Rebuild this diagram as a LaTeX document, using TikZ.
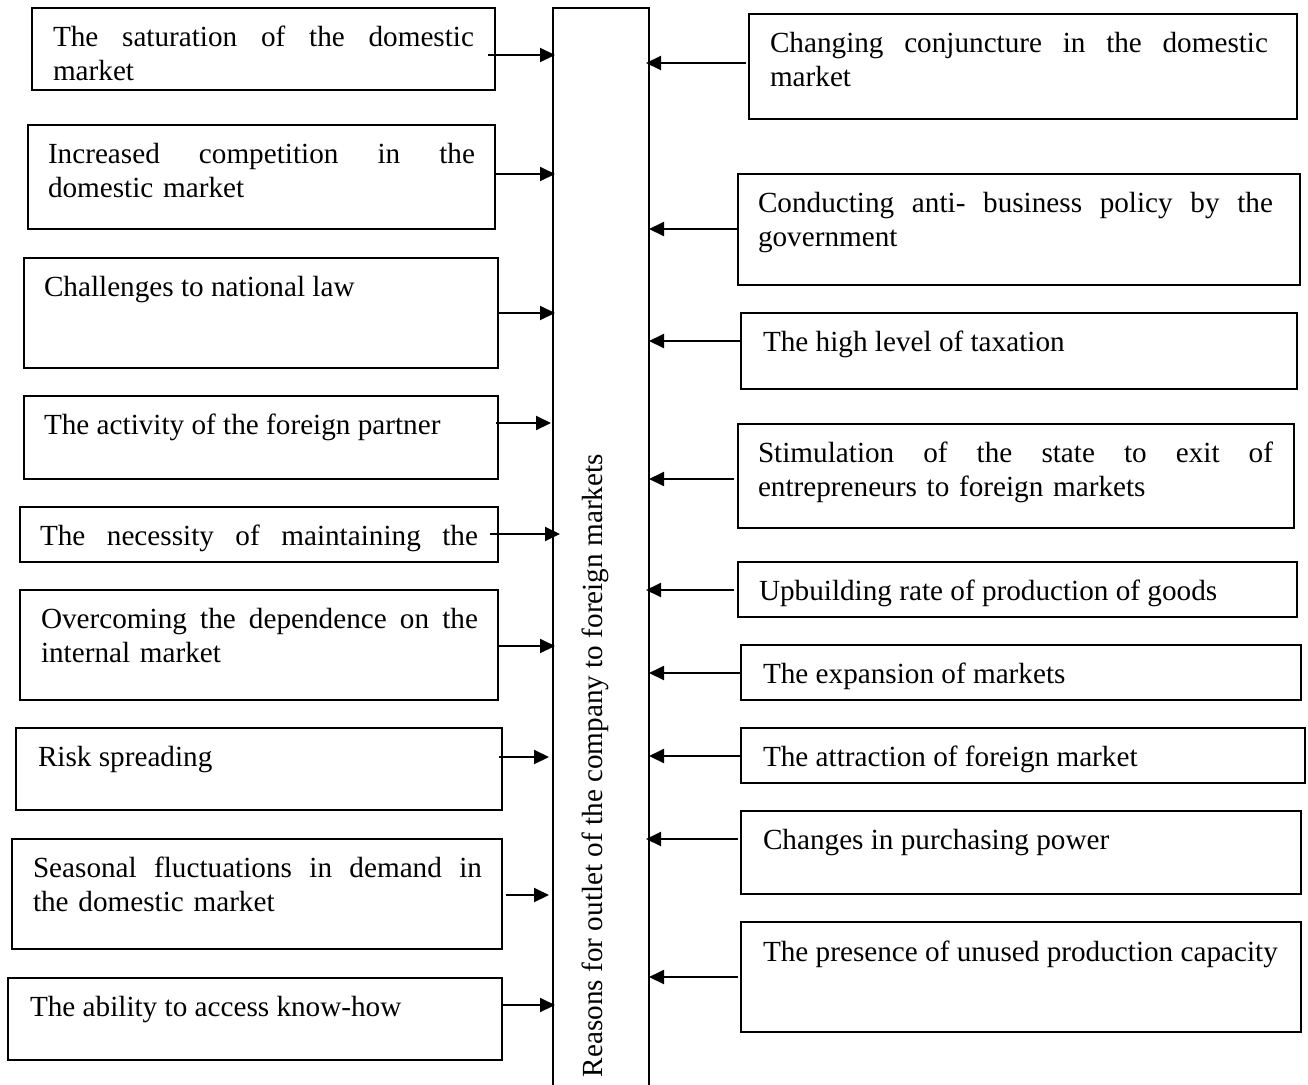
\documentclass[tikz,border=0pt]{standalone}
\usepackage{fontspec}
\setmainfont{Liberation Serif}
\usetikzlibrary{arrows.meta,calc}
% a first line spread to a given width, as in justified text
\newcommand{\jline}[2]{\hbox to #1{#2}}

\begin{document}
\begin{tikzpicture}[x=1pt,y=-1pt,
  causebox/.style={draw, line width=1.6pt, inner sep=0pt, outer sep=0pt, anchor=north west},
  label/.style={inner sep=0pt, outer sep=0pt, anchor=base west, align=left,
    font=\fontsize{29.2pt}{34pt}\selectfont},
  link/.style={line width=2pt, -{Triangle[length=15pt,width=14pt]}}]

\clip (0,0) rectangle (1308,1084);
\useasboundingbox (0,0) rectangle (1308,1084);

% central column
\node[causebox, minimum width=96pt, minimum height=1100pt] (bar) at (553,8) {};
\node[label, rotate=90] (bartext) at (602,1077)
  {Reasons for outlet of the company to foreign markets};

% left column of boxes
\node[causebox, minimum width=463pt, minimum height=82pt]  (L1) at (32,8) {};
\node[causebox, minimum width=467pt, minimum height=104pt] (L2) at (28,125) {};
\node[causebox, minimum width=474pt, minimum height=110pt] (L3) at (24,258) {};
\node[causebox, minimum width=474pt, minimum height=83pt]  (L4) at (24,396) {};
\node[causebox, minimum width=478pt, minimum height=55pt]  (L5) at (20,507) {};
\node[causebox, minimum width=478pt, minimum height=110pt] (L6) at (20,590) {};
\node[causebox, minimum width=486pt, minimum height=82pt]  (L7) at (16,728) {};
\node[causebox, minimum width=490pt, minimum height=110pt] (L8) at (12,839) {};
\node[causebox, minimum width=494pt, minimum height=82pt]  (L9) at (8,978) {};

\node[label, text width=421pt] (L1t) at (53,46.5)
  {\jline{421pt}{The \hfill saturation \hfill of \hfill the \hfill domestic}\\market};
\node[label, text width=427pt] (L2t) at (48,163.5)
  {\jline{427pt}{Increased \hfill competition \hfill in \hfill the}\\domestic market};
\node[label] (L3t) at (44,296.5) {Challenges to national law};
\node[label] (L4t) at (44,434.5) {The activity of the foreign partner};
\node[label, text width=438pt] (L5t) at (40,545.5)
  {\jline{438pt}{The \hfill necessity \hfill of \hfill maintaining \hfill the}};
\node[label, text width=437pt] (L6t) at (41,628.5)
  {\jline{437pt}{Overcoming \hfill the \hfill dependence \hfill on \hfill the}\\internal market};
\node[label] (L7t) at (38,766.5) {Risk spreading};
\node[label, text width=449pt] (L8t) at (33,877.5)
  {\jline{449pt}{Seasonal \hfill fluctuations \hfill in \hfill demand \hfill in}\\the domestic market};
\node[label] (L9t) at (30,1016.5) {The ability to access know-how};

% right column of boxes
\node[causebox, minimum width=548pt, minimum height=105pt] (R1) at (749,14) {};
\node[causebox, minimum width=562pt, minimum height=111pt] (R2) at (738,174) {};
\node[causebox, minimum width=556pt, minimum height=76pt]  (R3) at (741,313) {};
\node[causebox, minimum width=556pt, minimum height=104pt] (R4) at (738,424) {};
\node[causebox, minimum width=559pt, minimum height=55pt]  (R5) at (738,562) {};
\node[causebox, minimum width=560pt, minimum height=55pt]  (R6) at (741,645) {};
\node[causebox, minimum width=564pt, minimum height=55pt]  (R7) at (741,728) {};
\node[causebox, minimum width=560pt, minimum height=83pt]  (R8) at (741,811) {};
\node[causebox, minimum width=560pt, minimum height=110pt] (R9) at (741,922) {};

\node[label, text width=498pt] (R1t) at (770,52.5)
  {\jline{498pt}{Changing \hfill conjuncture \hfill in \hfill the \hfill domestic}\\market};
\node[label, text width=515pt] (R2t) at (758,212.5)
  {\jline{515pt}{Conducting \hfill anti- \hfill business \hfill policy \hfill by \hfill the}\\government};
\node[label] (R3t) at (763,351.5) {The high level of taxation};
\node[label, text width=515pt] (R4t) at (758,462.5)
  {\jline{515pt}{Stimulation \hfill of \hfill the \hfill state \hfill to \hfill exit \hfill of}\\entrepreneurs to foreign markets};
\node[label] (R5t) at (759,600.5) {Upbuilding rate of production of goods};
\node[label] (R6t) at (763,683.5) {The expansion of markets};
\node[label] (R7t) at (763,766.5) {The attraction of foreign market};
\node[label] (R8t) at (763,849.5) {Changes in purchasing power};
\node[label] (R9t) at (763,961) {The presence of unused production capacity};

% arrows from the left boxes into the column
\draw[link] ($(L1.east|-0,55)+(-7,0)$)   -- ($(bar.west|-0,55)+(2,0)$);
\draw[link] (L2.east|-0,174)             -- ($(bar.west|-0,174)+(2,0)$);
\draw[link] (L3.east|-0,313)             -- ($(bar.west|-0,313)+(2,0)$);
\draw[link] ($(L4.east|-0,423)+(-2,0)$)  -- ($(bar.west|-0,423)+(-2,0)$);
\draw[link] ($(L5.east|-0,534)+(-8,0)$)  -- ($(bar.west|-0,534)+(7,0)$);
\draw[link] (L6.east|-0,646)             -- ($(bar.west|-0,646)+(2,0)$);
\draw[link] ($(L7.east|-0,757)+(-3,0)$)  -- ($(bar.west|-0,757)+(-4,0)$);
\draw[link] ($(L8.east|-0,895)+(4,0)$)   -- ($(bar.west|-0,895)+(-4,0)$);
\draw[link] (L9.east|-0,1005)            -- ($(bar.west|-0,1005)+(2,0)$);

% arrows from the right boxes into the column
\draw[link] ($(R1.west|-0,63)+(-3,0)$)   -- ($(bar.east|-0,63)+(-3,0)$);
\draw[link] (R2.west|-0,229)             -- (bar.east|-0,229);
\draw[link] (R3.west|-0,341)             -- (bar.east|-0,341);
\draw[link] ($(R4.west|-0,479)+(-4,0)$)  -- (bar.east|-0,479);
\draw[link] ($(R5.west|-0,590)+(-4,0)$)  -- ($(bar.east|-0,590)+(-3,0)$);
\draw[link] (R6.west|-0,673)             -- (bar.east|-0,673);
\draw[link] (R7.west|-0,756)             -- (bar.east|-0,756);
\draw[link] ($(R8.west|-0,839)+(-3,0)$)  -- ($(bar.east|-0,839)+(-3,0)$);
\draw[link] ($(R9.west|-0,977)+(-3,0)$)  -- (bar.east|-0,977);
\end{tikzpicture}
\end{document}
